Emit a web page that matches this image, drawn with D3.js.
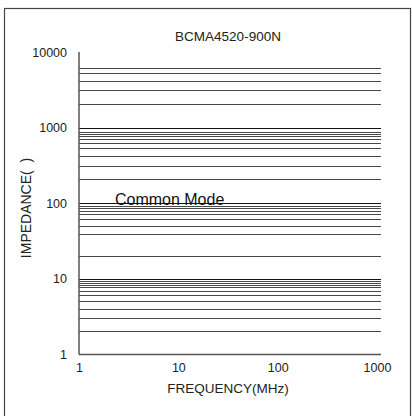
<!DOCTYPE html>
<html>
<head>
<meta charset="utf-8">
<script src="https://cdn.jsdelivr.net/npm/d3@7"></script>
<style>
html,body{margin:0;padding:0;background:#fff;}
svg{display:block;font-family:"Liberation Sans",Arial,sans-serif;}
</style>
</head>
<body>
<svg id="chart" width="412" height="416"></svg>
<script>
// ---- data ----
const chartTitle = "BCMA4520-900N";
const xLabel = "FREQUENCY(MHz)";
const yLabel = "IMPEDANCE(  )";
const xTicks = [1, 10, 100, 1000];
const yTicks = [1, 10, 100, 1000, 10000];
// horizontal rules (irregular spacing in the original)
const decadeLines = [10, 100, 1000];
const gridDecade1 = [2.04, 3.03, 4.04, 5.15, 6.1, 7.0, 7.8, 8.3, 8.9, 9.4];
const gridDecade2 = [20, 39, 50, 61, 73, 80, 87, 92];
const gridDecade3 = [207, 310, 417, 537, 633, 706, 774, 822, 875];
const gridDecade4 = [2050, 3100, 4150, 5350, 6200];
const annotationText = "Common Mode";
const annotationAt = [2.3, 96];

// ---- drawing ----
const svg = d3.select("#chart");
const x = d3.scaleLog().domain([1, 1000]).range([79, 377]);
const y = d3.scaleLog().domain([1, 10000]).range([354.5, 52]);
const xEnd = 381;

// outer frame
svg.append("rect").attr("x", 4.5).attr("y", 8.5).attr("width", 406).attr("height", 420)
  .attr("fill", "none").attr("stroke", "#444").attr("stroke-width", 1.2);

const minor = [].concat(gridDecade1, gridDecade2, gridDecade3, gridDecade4);

// minor rules
svg.append("g").selectAll("line").data(minor).join("line")
  .attr("x1", x(1)).attr("x2", xEnd)
  .attr("y1", d => Math.round(y(d)) + 0.5).attr("y2", d => Math.round(y(d)) + 0.5)
  .attr("stroke", "#484848").attr("stroke-width", 1);

// decade rules
svg.append("g").selectAll("line").data(decadeLines).join("line")
  .attr("x1", x(1)).attr("x2", xEnd)
  .attr("y1", d => Math.round(y(d)) + 0.5).attr("y2", d => Math.round(y(d)) + 0.5)
  .attr("stroke", "#111").attr("stroke-width", 1.1);

// axes lines
svg.append("line").attr("x1", x(1)).attr("x2", x(1)).attr("y1", y(10000)).attr("y2", y(1))
  .attr("stroke", "#555").attr("stroke-width", 1.5);
svg.append("line").attr("x1", x(1)).attr("x2", xEnd).attr("y1", y(1)).attr("y2", y(1))
  .attr("stroke", "#555").attr("stroke-width", 1.5);

// y tick labels
const yAxis = d3.axisLeft(y).tickValues(yTicks).tickFormat(d3.format("d")).tickSize(0).tickPadding(12);
const gy = svg.append("g").attr("transform", `translate(${x(1)},0)`).call(yAxis);
gy.select(".domain").remove();
gy.selectAll("text").attr("font-size", 12.5).attr("fill", "#222")
  .attr("font-family", "Liberation Sans, Arial, sans-serif");

// x tick labels
const xAxis = d3.axisBottom(x).tickValues(xTicks).tickFormat(d3.format("d")).tickSize(0).tickPadding(9);
const gx = svg.append("g").attr("transform", `translate(0,${y(1)})`).call(xAxis);
gx.select(".domain").remove();
gx.selectAll("text").attr("font-size", 12.5).attr("fill", "#222")
  .attr("font-family", "Liberation Sans, Arial, sans-serif");

// title
svg.append("text").attr("x", 228).attr("y", 40.5).attr("text-anchor", "middle")
  .attr("font-size", 13.5).attr("fill", "#222").text(chartTitle);

// x label
svg.append("text").attr("x", 228).attr("y", 393).attr("text-anchor", "middle")
  .attr("font-size", 13.5).attr("fill", "#222").text(xLabel);

// y label
svg.append("text").attr("transform", "translate(31,208) rotate(-90)").attr("text-anchor", "middle")
  .attr("font-size", 14).attr("fill", "#222").style("white-space", "pre").text(yLabel);

// annotation
svg.append("text").attr("x", x(annotationAt[0])).attr("y", y(annotationAt[1]))
  .attr("font-size", 16).attr("fill", "#111").text(annotationText);
</script>
</body>
</html>
